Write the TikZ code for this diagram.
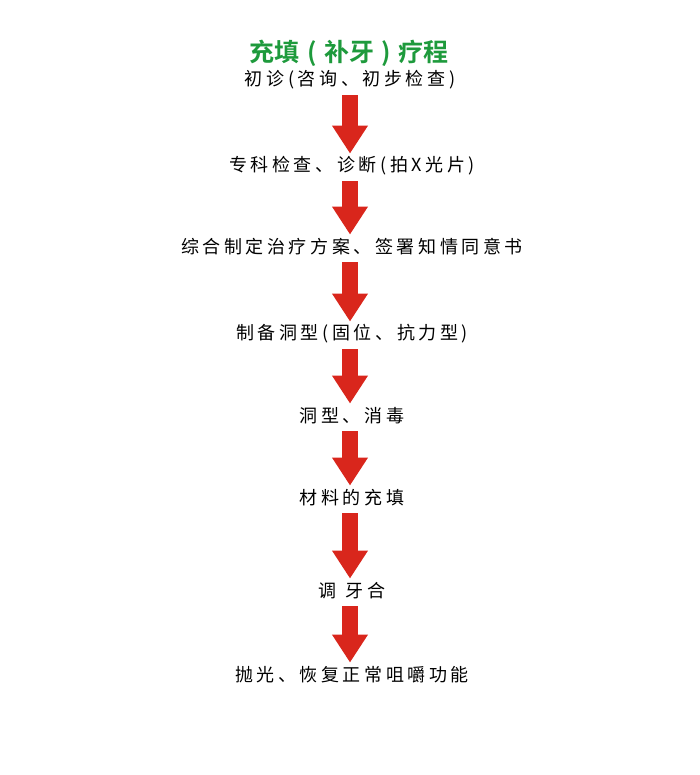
\documentclass[tikz,border=0pt]{standalone}
\usepackage{fontspec}
\usepackage{xcolor}
\usepackage{tikz}
\usetikzlibrary{arrows.meta,positioning}
\newfontfamily\cjk{Noto Sans CJK SC}[LetterSpace=20]
\newfontfamily\cjktitle{Noto Sans CJK SC Bold}
\definecolor{titlegreen}{RGB}{30,154,60}
\definecolor{arrowred}{RGB}{217,38,28}
\tikzset{
    stepnode/.style={font=\cjk\fontsize{9pt}{9pt}\selectfont, inner sep=0pt, minimum height=15pt},
    bigarrow/.style={arrowred, line width=8pt, -{Triangle[width=17pt,length=14pt]}, shorten >=-1.5pt}
}
\begin{document}
\begin{tikzpicture}[x=0.5pt,y=-0.5pt]
    \useasboundingbox (0,0) rectangle (700,775);
    \node[font=\cjktitle\fontsize{12.5pt}{12.5pt}\selectfont, text=titlegreen] (title) at (349,53) {充填\hspace{.3em}(\hspace{.3em}补牙\hspace{.3em})\hspace{.3em}疗程};
    \node[stepnode] (s1) at (350,80) {初诊(咨询、初步检查)};
    \node[stepnode] (s2) at (352,166) {专科检查、诊断(拍X光片)};
    \node[stepnode] (s3) at (352,247) {综合制定治疗方案、签署知情同意书};
    \node[stepnode] (s4) at (352,334) {制备洞型(固位、抗力型)};
    \node[stepnode] (s5) at (352,416) {洞型、消毒};
    \node[stepnode] (s6) at (352,498) {材料的充填};
    \node[stepnode] (s7) at (352,591) {调\hspace{.5em}牙合};
    \node[stepnode] (s8) at (352,675) {抛光、恢复正常咀嚼功能};
    % red block arrows between the steps
    \foreach \a/\b in {s1/s2,s2/s3,s3/s4,s4/s5,s5/s6,s6/s7,s7/s8}
        \draw[bigarrow] (\a.south -| 350,0) -- (\b.north -| 350,0);
\end{tikzpicture}
\end{document}
